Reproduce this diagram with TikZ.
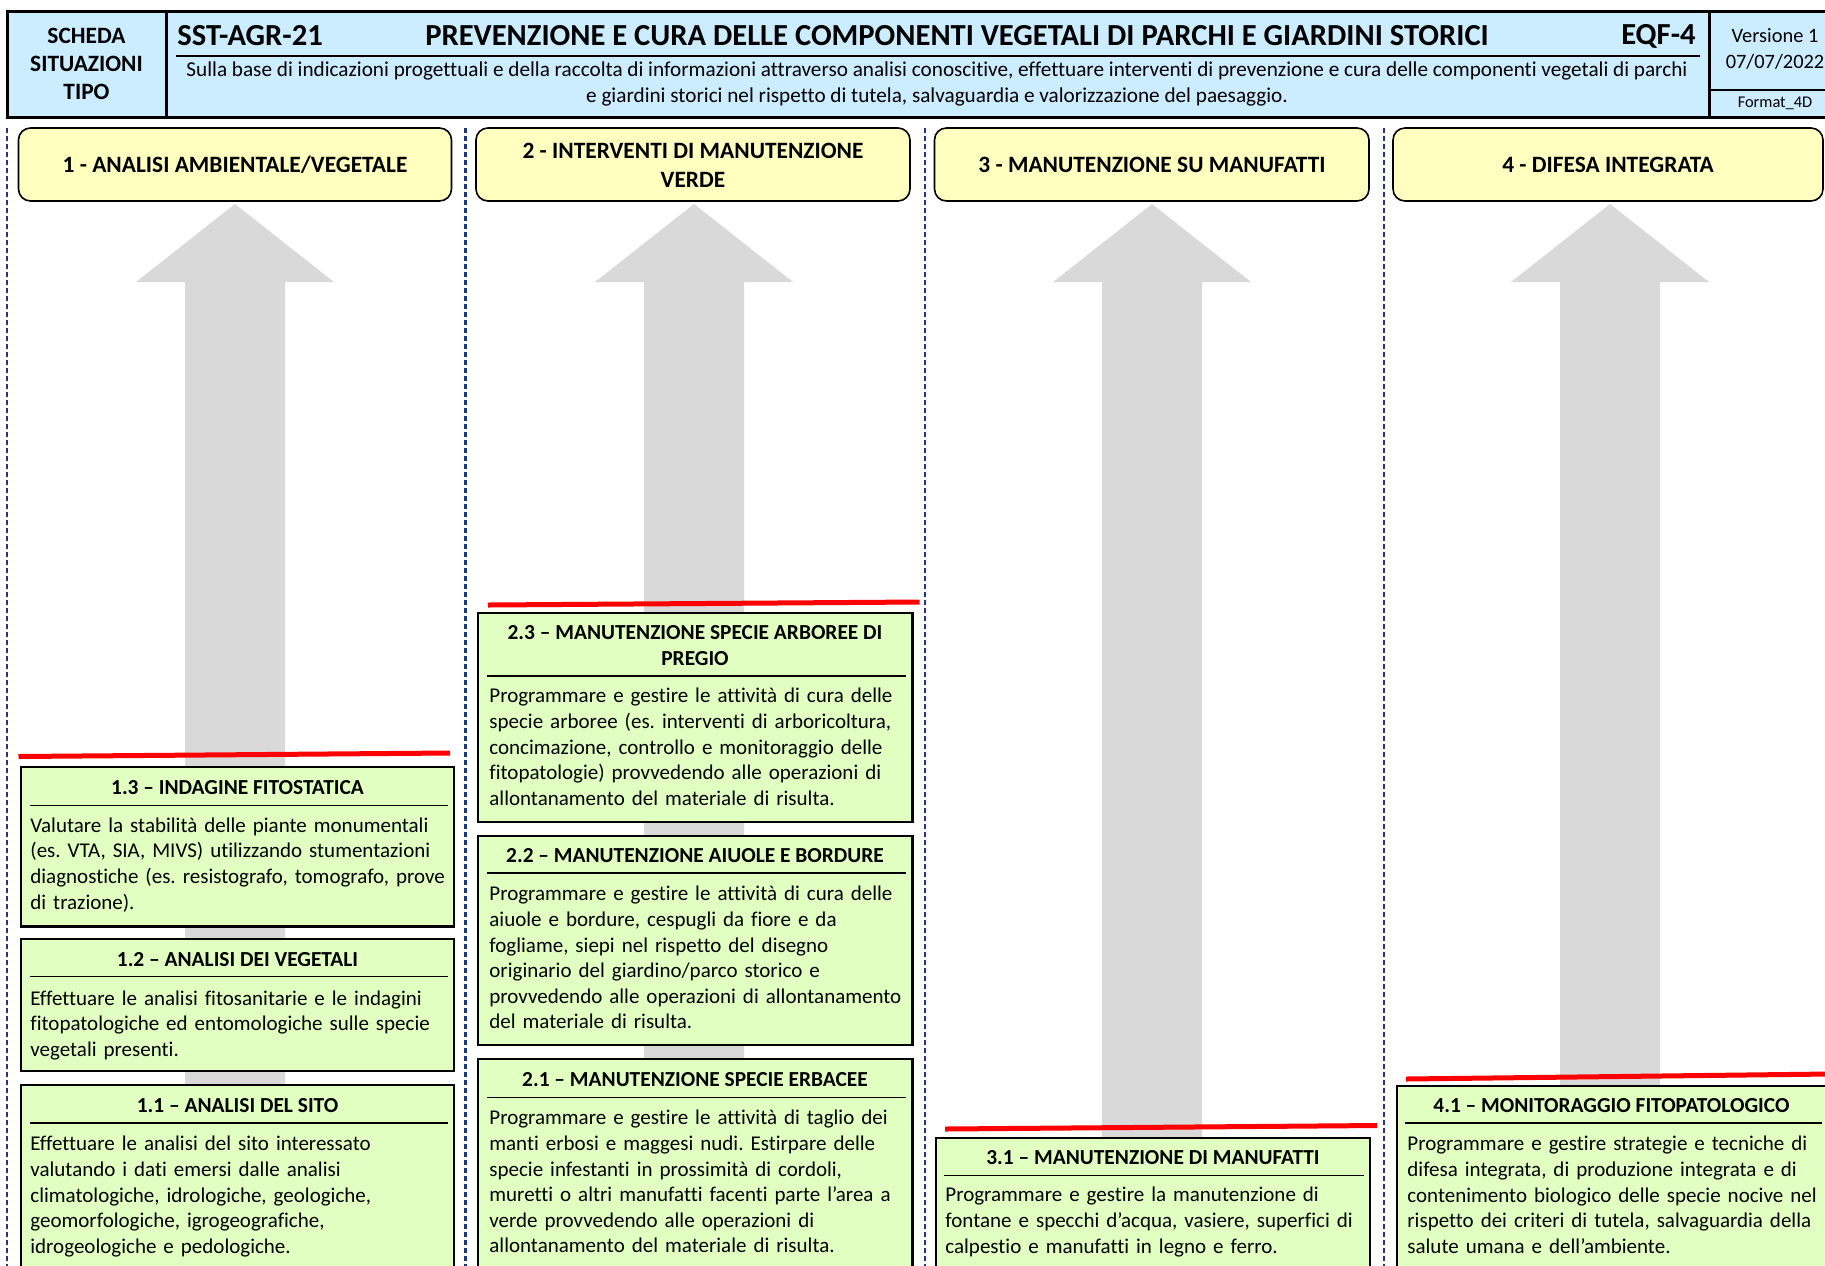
\documentclass[tikz,border=0pt]{standalone}
\usepackage{fontspec}
\setmainfont{Carlito}[Ligatures={TeX,NoCommon}]
\frenchspacing
\definecolor{headblue}{RGB}{204,236,255}
\definecolor{areayellow}{RGB}{255,255,192}
\definecolor{taskgreen}{RGB}{224,255,192}
\definecolor{arrowgray}{RGB}{217,217,217}
\definecolor{sepnavy}{RGB}{32,56,120}
\begin{document}
\begin{tikzpicture}[x=0.5pt, y=-0.5pt,
  colsep/.style={sepnavy, line width=1.1pt, dash pattern=on 2.5pt off 1.5pt},
  bigarrow/.style={fill=arrowgray},
  headbox/.style={draw=black, line width=1.5pt, fill=headblue},
  areabox/.style={draw=black, line width=0.8pt, fill=areayellow, rounded corners=6pt},
  areatitle/.style={font=\fontsize{11.7}{14.5}\selectfont\bfseries, align=center},
  redline/.style={red, line width=2.5pt},
  taskbox/.style={draw=black, line width=1.1pt, fill=taskgreen},
  tasktitle/.style={font=\fontsize{10.7}{13}\selectfont\bfseries, align=center},
  taskline/.style={black, line width=0.6pt},
  tasktext/.style={font=\fontsize{10.5}{12.8}\selectfont, anchor=north west, inner sep=0pt, align=left, text width=215pt}]
\useasboundingbox (0,0) rectangle (1825,1265);
\clip (0,0) rectangle (1825,1265);
%header
\draw [headbox] (7,11) rectangle (1830,117);
\draw [line width=1.5pt] (166,11) -- (166,117);
\draw [line width=1.5pt] (1709,11) -- (1709,117);
\draw [line width=1pt] (1709,90) -- (1830,90);
\draw [line width=0.8pt] (176,56) -- (1700,56);
\node [font=\fontsize{11.7}{14}\selectfont\bfseries, align=center] (scheda) at (86.5,64) {SCHEDA\\SITUAZIONI\\TIPO};
\node [font=\fontsize{15.3}{18}\selectfont\bfseries, anchor=west, inner sep=0pt] (code) at (177,36) {SST-AGR-21};
\node [font=\fontsize{15.3}{18}\selectfont\bfseries] (title) at (957,36) {PREVENZIONE E CURA DELLE COMPONENTI VEGETALI DI PARCHI E GIARDINI STORICI};
\node [font=\fontsize{15.3}{18}\selectfont\bfseries, anchor=east, inner sep=0pt] (eqf) at (1696,36) {EQF-4};
\node [font=\fontsize{10.6}{13}\selectfont, align=center] (descr) at (937,84) {Sulla base di indicazioni progettuali e della raccolta di informazioni attraverso analisi conoscitive, effettuare interventi di prevenzione e cura delle componenti vegetali di parchi\\e giardini storici nel rispetto di tutela, salvaguardia e valorizzazione del paesaggio.};
\node [font=\fontsize{10.2}{12}\selectfont] (version) at (1775,36) {Versione 1};
\node [font=\fontsize{10.2}{12}\selectfont] (date) at (1775,62) {07/07/2022};
\node [font=\fontsize{8.2}{10}\selectfont] (format) at (1775,103) {Format\_4D};
%grey arrows
\fill [bigarrow] (235,204) -- (334,282) -- (285,282) -- (285,1280) -- (185,1280) -- (185,282) -- (136,282) -- cycle;
\fill [bigarrow] (694,204) -- (793,282) -- (744,282) -- (744,1280) -- (644,1280) -- (644,282) -- (595,282) -- cycle;
\fill [bigarrow] (1152,204) -- (1251,282) -- (1202,282) -- (1202,1280) -- (1102,1280) -- (1102,282) -- (1053,282) -- cycle;
\fill [bigarrow] (1610,204) -- (1709,282) -- (1660,282) -- (1660,1280) -- (1560,1280) -- (1560,282) -- (1511,282) -- cycle;
%column separators
\draw [colsep] (7,128) -- (7,1270);
\draw [colsep] (465.5,128) -- (465.5,1270);
\draw [colsep] (925,128) -- (925,1270);
\draw [colsep] (1384,128) -- (1384,1270);
%area boxes
\draw [areabox] (18.5,128) rectangle (451.5,201);
\draw [areabox] (476,128) rectangle (910,201);
\draw [areabox] (934.5,128) rectangle (1369,201);
\draw [areabox] (1393,128) rectangle (1823,201);
\node [areatitle] (area1) at (235,165) {1 - ANALISI AMBIENTALE/VEGETALE};
\node [areatitle] (area2) at (693,165) {2 - INTERVENTI DI MANUTENZIONE\\VERDE};
\node [areatitle] (area3) at (1152,165) {3 - MANUTENZIONE SU MANUFATTI};
\node [areatitle] (area4) at (1608,165) {4 - DIFESA INTEGRATA};
%red levels
\draw [redline] (18.5,756.5) -- (450,753);
\draw [redline] (488,605) -- (919.5,602);
\draw [redline] (945,1129) -- (1377,1125.5);
\draw [redline] (1406,1079) -- (1830,1074);
%column 1
\draw [taskbox] (21,767) rectangle (454,926.5);
\node [tasktitle] (t13) at (237.5,788) {1.3 – INDAGINE FITOSTATICA};
\draw [taskline] (30,805.5) -- (448,805.5);
\node [tasktext] (d13) at (30,814) {\strut Valutare la stabilità delle piante monumentali\\(es. VTA, SIA, MIVS) utilizzando stumentazioni\\diagnostiche (es. resistografo, tomografo, prove\\di trazione).};
\draw [taskbox] (21,939) rectangle (454,1071);
\node [tasktitle] (t12) at (237.5,960) {1.2 – ANALISI DEI VEGETALI};
\draw [taskline] (30,976.5) -- (448,976.5);
\node [tasktext] (d12) at (30,987) {\strut Effettuare le analisi fitosanitarie e le indagini\\fitopatologiche ed entomologiche sulle specie\\vegetali presenti.};
\draw [taskbox] (21,1085) rectangle (454,1280);
\node [tasktitle] (t11) at (237.5,1106) {1.1 – ANALISI DEL SITO};
\draw [taskline] (30,1123) -- (448,1123);
\node [tasktext] (d11) at (30,1132.5) {\strut Effettuare le analisi del sito interessato\\valutando i dati emersi dalle analisi\\climatologiche, idrologiche, geologiche,\\geomorfologiche, igrogeografiche,\\idrogeologiche e pedologiche.};
%column 2
\draw [taskbox] (478,613) rectangle (912.5,822);
\node [tasktitle] (t23) at (695,646) {2.3 – MANUTENZIONE SPECIE ARBOREE DI\\PREGIO};
\draw [taskline] (487,676) -- (906,676);
\node [tasktext] (d23) at (489,684.5) {\strut Programmare e gestire le attività di cura delle\\specie arboree (es. interventi di arboricoltura,\\concimazione, controllo e monitoraggio delle\\fitopatologie) provvedendo alle operazioni di\\allontanamento del materiale di risulta.};
\draw [taskbox] (478,836) rectangle (912.5,1045);
\node [tasktitle] (t22) at (695,855.5) {2.2 – MANUTENZIONE AIUOLE E BORDURE};
\draw [taskline] (487,873) -- (906,873);
\node [tasktext] (d22) at (489,882.5) {\strut Programmare e gestire le attività di cura delle\\aiuole e bordure, cespugli da fiore e da\\fogliame, siepi nel rispetto del disegno\\originario del giardino/parco storico e\\provvedendo alle operazioni di allontanamento\\del materiale di risulta.};
\draw [taskbox] (478,1059) rectangle (912.5,1280);
\node [tasktitle] (t21) at (695,1080) {2.1 – MANUTENZIONE SPECIE ERBACEE};
\draw [taskline] (487,1097.5) -- (906,1097.5);
\node [tasktext] (d21) at (489,1106.5) {\strut Programmare e gestire le attività di taglio dei\\manti erbosi e maggesi nudi. Estirpare delle\\specie infestanti in prossimità di cordoli,\\muretti o altri manufatti facenti parte l’area a\\verde provvedendo alle operazioni di\\allontanamento del materiale di risulta.};
%column 3
\draw [taskbox] (936,1138) rectangle (1370,1280);
\node [tasktitle] (t31) at (1153,1158) {3.1 – MANUTENZIONE DI MANUFATTI};
\draw [taskline] (944,1175.5) -- (1364,1175.5);
\node [tasktext] (d31) at (945,1183.5) {\strut Programmare e gestire la manutenzione di\\fontane e specchi d’acqua, vasiere, superfici di\\calpestio e manufatti in legno e ferro.};
%column 4
\draw [taskbox] (1397,1086) rectangle (1830,1280);
\node [tasktitle] (t41) at (1611.5,1106) {4.1 – MONITORAGGIO FITOPATOLOGICO};
\draw [taskline] (1405,1123) -- (1822,1123);
\node [tasktext] (d41) at (1407,1132.5) {\strut Programmare e gestire strategie e tecniche di\\difesa integrata, di produzione integrata e di\\contenimento biologico delle specie nocive nel\\rispetto dei criteri di tutela, salvaguardia della\\salute umana e dell’ambiente.};
\end{tikzpicture}
\end{document}
